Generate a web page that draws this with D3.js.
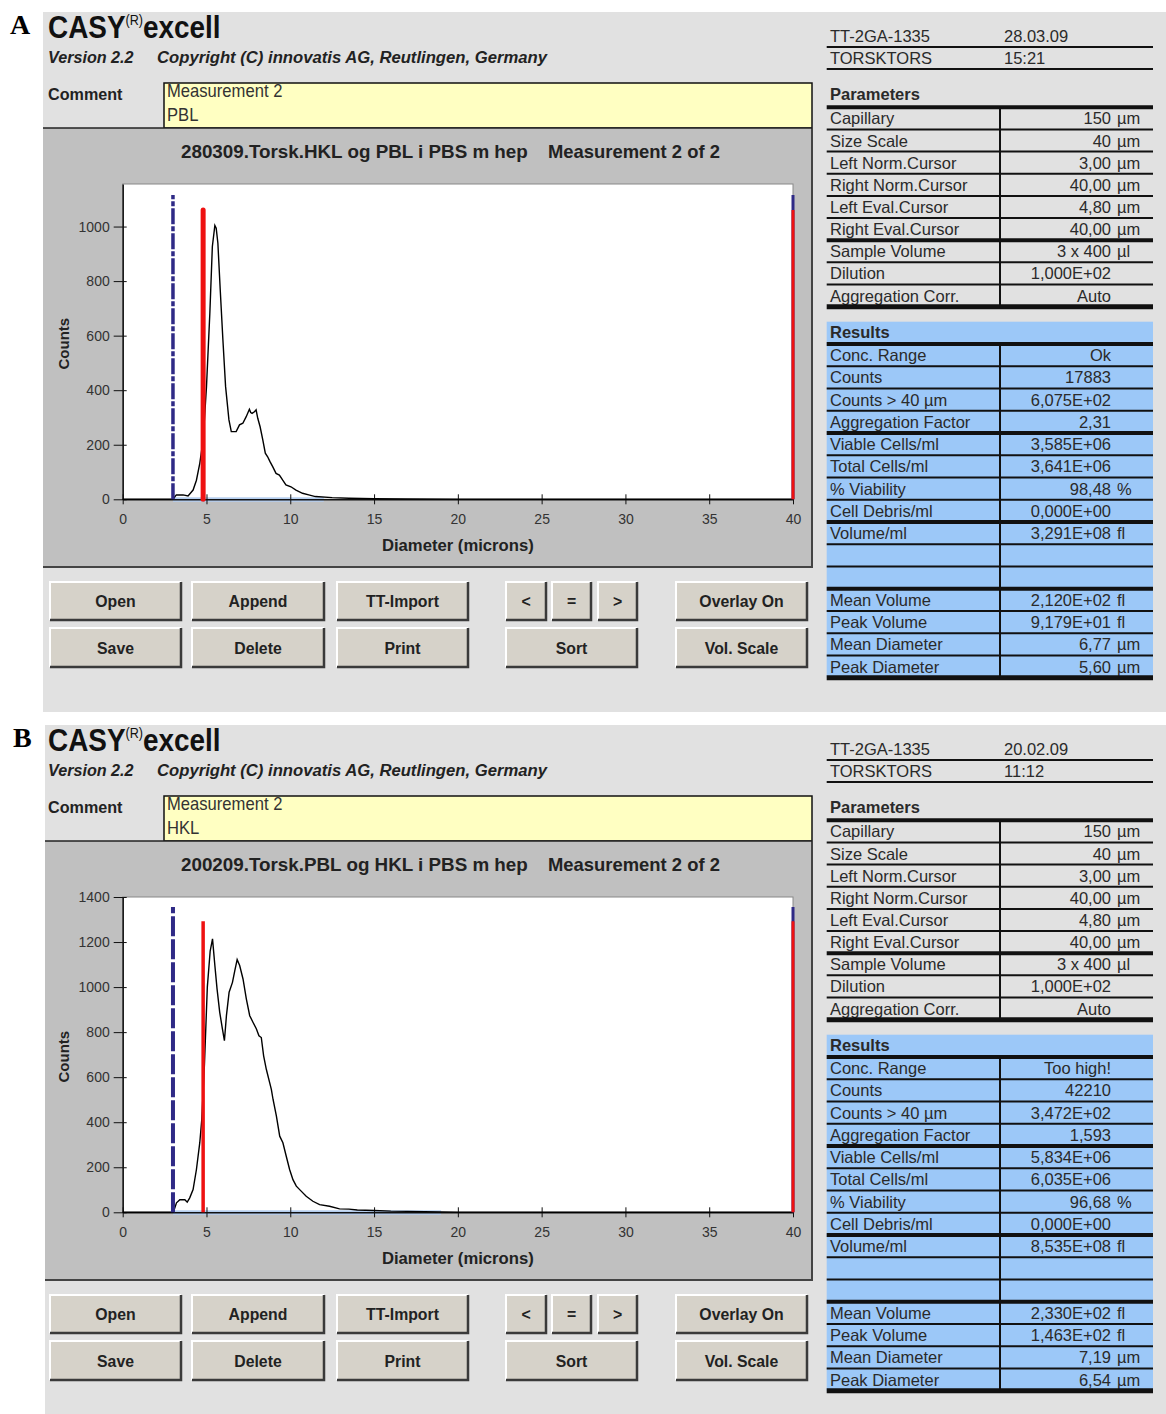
<!DOCTYPE html>
<html>
<head>
<meta charset="utf-8">
<script src="https://cdn.jsdelivr.net/npm/d3@7"></script>
<style>
  body { margin: 0; background: #fff; }
  svg { display: block; }
</style>
</head>
<body>
<script>
// ---- data ----
const X_TICKS = [0, 5, 10, 15, 20, 25, 30, 35, 40];
const Y_TICKS_A = [0, 200, 400, 600, 800, 1000];
const Y_TICKS_B = [0, 200, 400, 600, 800, 1000, 1200, 1400];

const diamA = [0, 3.0, 3.2, 3.6, 3.9, 4.2, 4.4, 4.6, 4.8, 5.0, 5.2, 5.35, 5.5, 5.58, 5.68, 5.82, 5.98, 6.14, 6.34, 6.48,
  6.77, 6.97, 7.17, 7.37, 7.56, 7.64, 7.72, 7.86, 7.96, 8.06, 8.2, 8.36, 8.51, 8.65, 8.79, 8.95, 9.15, 9.35, 9.54, 9.74,
  10.04, 10.34, 10.73, 11.1, 11.5, 12.5, 13.5, 15, 17, 20, 25, 40];
const countsA = [0, 0, 16, 16, 12, 34, 70, 132, 218, 413, 682, 927, 1004, 994, 939, 768, 584, 413, 291, 248,
  248, 273, 279, 303, 330, 318, 315, 321, 328, 297, 266, 218, 169, 156, 138, 120, 95, 89, 71, 53,
  46, 34, 22, 16, 10, 6, 4, 2, 1, 0.5, 0, 0];

const diamB = [0, 3.02, 3.21, 3.41, 3.71, 3.85, 4.0, 4.2, 4.4, 4.6, 4.72, 4.88, 5.05, 5.22, 5.36, 5.5, 5.63, 5.79, 5.95, 6.07,
  6.19, 6.35, 6.55, 6.69, 6.83, 6.98, 7.18, 7.38, 7.58, 7.78, 7.98, 8.13, 8.27, 8.41, 8.57, 8.77, 8.87, 8.97, 9.17, 9.37,
  9.56, 9.76, 9.96, 10.16, 10.36, 10.65, 10.95, 11.35, 11.75, 12.34, 12.94, 13.5, 14, 15, 16, 17, 18, 19, 20, 25, 40];
const countsB = [0, 0, 42, 56, 56, 45, 64, 101, 190, 309, 413, 660, 1000, 1160, 1214, 1096, 992, 888, 814, 762,
  873, 977, 1021, 1073, 1122, 1096, 1036, 947, 873, 843, 814, 784, 776, 695, 635, 576, 546, 502, 428, 338,
  309, 249, 190, 145, 116, 94, 71, 49, 34, 27, 15, 14, 10, 8, 5, 4, 3, 2, 1, 0.5, 0];

// cursor positions (microns) and drawn heights (counts)
const cursorsA = { normL: 3.0, normR: 40, evalL: 4.8, evalR: 40, normH: 1116, evalH: 1061, yMax: 1156 };
const cursorsB = { normL: 3.0, normR: 40, evalL: 4.8, evalR: 40, normH: 1356, evalH: 1292, yMax: 1400 };
const bandA = [3, 12];
const bandB = [3, 19];

const headerA = [["TT-2GA-1335", "28.03.09"], ["TORSKTORS", "15:21"]];
const headerB = [["TT-2GA-1335", "20.02.09"], ["TORSKTORS", "11:12"]];
const commentA = ["Measurement 2", "PBL"];
const commentB = ["Measurement 2", "HKL"];
const titleA = "280309.Torsk.HKL og PBL i PBS m hep";
const titleB = "200209.Torsk.PBL og HKL i PBS m hep";

const paramLabels = ["Capillary", "Size Scale", "Left Norm.Cursor", "Right Norm.Cursor", "Left Eval.Cursor",
  "Right Eval.Cursor", "Sample Volume", "Dilution", "Aggregation Corr."];
const paramValues = [["150", "µm"], ["40", "µm"], ["3,00", "µm"], ["40,00", "µm"], ["4,80", "µm"],
  ["40,00", "µm"], ["3 x 400", "µl"], ["1,000E+02", ""], ["Auto", ""]];

const resultLabels = ["Conc. Range", "Counts", "Counts > 40 µm", "Aggregation Factor", "Viable Cells/ml",
  "Total Cells/ml", "% Viability", "Cell Debris/ml", "Volume/ml", "", "", "Mean Volume", "Peak Volume",
  "Mean Diameter", "Peak Diameter"];
const resultsA = [["Ok", ""], ["17883", ""], ["6,075E+02", ""], ["2,31", ""], ["3,585E+06", ""], ["3,641E+06", ""],
  ["98,48", "%"], ["0,000E+00", ""], ["3,291E+08", "fl"], ["", ""], ["", ""], ["2,120E+02", "fl"],
  ["9,179E+01", "fl"], ["6,77", "µm"], ["5,60", "µm"]];
const resultsB = [["Too high!", ""], ["42210", ""], ["3,472E+02", ""], ["1,593", ""], ["5,834E+06", ""], ["6,035E+06", ""],
  ["96,68", "%"], ["0,000E+00", ""], ["8,535E+08", "fl"], ["", ""], ["", ""], ["2,330E+02", "fl"],
  ["1,463E+02", "fl"], ["7,19", "µm"], ["6,54", "µm"]];

const buttonsRow1 = ["Open", "Append", "TT-Import", "<", "=", ">", "Overlay On"];
const buttonsRow2 = ["Save", "Delete", "Print", "Sort", "Vol. Scale"];

// ---- drawing ----
const SANS = '"Liberation Sans", Arial, sans-serif';
const BLUE_CELL = "#9cc8f8";

const svg = d3.select("body").append("svg")
  .attr("width", 1166)
  .attr("height", 1414);

svg.append("rect").attr("width", 1166).attr("height", 1414).attr("fill", "#fff");

// condensed text: Arial Narrow is not installed, so squeeze Liberation Sans
function narrow(g, xx, yy, str, size, opts = {}) {
  const s = opts.sx || 0.86;
  return g.append("text")
    .attr("transform", `translate(${xx},${yy}) scale(${s},1)`)
    .attr("text-anchor", opts.anchor || "start")
    .attr("font-family", SANS).attr("font-size", size)
    .attr("font-weight", opts.bold ? "bold" : null)
    .attr("font-style", opts.italic ? "italic" : null)
    .attr("fill", opts.fill || "#222")
    .text(str);
}

function drawPanel(p) {
  const g = svg.append("g").attr("transform", `translate(0,${p.dy})`);

  g.append("rect").attr("x", p.grayX).attr("y", 12).attr("width", 1166 - p.grayX).attr("height", 700).attr("fill", "#e1e1e1");

  g.append("text").attr("x", p.letterX).attr("y", 34)
    .attr("font-family", '"Liberation Serif", "Times New Roman", serif')
    .attr("font-weight", "bold").attr("font-size", 28).attr("fill", "#000")
    .text(p.letter);

  // program header
  const t = g.append("text").attr("transform", "translate(48,38) scale(0.9,1)")
    .attr("font-family", SANS).attr("font-size", 31).attr("font-weight", "bold").attr("fill", "#111");
  t.append("tspan").text("CASY");
  t.append("tspan").attr("font-size", 14).attr("font-weight", "normal").attr("dy", -13).text("(R)");
  t.append("tspan").attr("dy", 13).text("excell");

  narrow(g, 48, 63, "Version 2.2", 17, { bold: true, italic: true, sx: 0.95 });
  narrow(g, 157, 63, "Copyright (C) innovatis AG, Reutlingen, Germany", 17, { bold: true, italic: true, sx: 0.98 });
  narrow(g, 48, 100, "Comment", 17, { bold: true, sx: 0.95 });

  // comment box
  g.append("rect").attr("x", 164).attr("y", 83).attr("width", 648).attr("height", 45)
    .attr("fill", "#ffffc2").attr("stroke", "#111").attr("stroke-width", 1.5);
  p.comment.forEach((c, i) => narrow(g, 167, 97 + i * 24, c, 17.5, { fill: "#333", sx: 0.95 }));

  // chart frame
  g.append("rect").attr("x", p.grayX).attr("y", 128).attr("width", 812 - p.grayX).attr("height", 439).attr("fill", "#c0c0c0");
  g.append("path").attr("d", `M812,128V567H${p.grayX}`).attr("fill", "none").attr("stroke", "#444").attr("stroke-width", 2);
  g.append("line").attr("x1", p.grayX).attr("x2", 812).attr("y1", 128).attr("y2", 128).attr("stroke", "#222").attr("stroke-width", 1.5);

  narrow(g, 181, 158, p.title, 19, { bold: true, sx: 0.99 });
  narrow(g, 548, 158, "Measurement 2 of 2", 19, { bold: true, sx: 0.97 });

  const x = d3.scaleLinear().domain([0, 40]).range([122.7, 793]);
  const y = d3.scaleLinear().domain([0, p.cur.yMax]).range([499.3, 184]);

  g.append("rect").attr("x", x(0)).attr("y", y(p.cur.yMax)).attr("width", x(40) - x(0)).attr("height", y(0) - y(p.cur.yMax))
    .attr("fill", "#fff").attr("stroke", "#888").attr("stroke-width", 1);

  // light blue strip under the evaluated range
  g.append("rect").attr("x", x(p.band[0])).attr("y", y(0) - 2).attr("width", x(p.band[1]) - x(p.band[0])).attr("height", 4.5)
    .attr("fill", "#b4cdee");

  const yAxis = g.append("g").attr("transform", `translate(${x(0)},0)`)
    .call(d3.axisLeft(y).tickValues(p.yTicks).tickFormat(d3.format("d")).tickSize(9).tickPadding(4).tickSizeOuter(0));
  yAxis.selectAll(".tick line").attr("x1", 4).attr("stroke", "#111");
  yAxis.select(".domain").attr("stroke", "#111").attr("stroke-width", 1.5);
  yAxis.selectAll(".tick text").attr("font-family", SANS).attr("font-size", 14).attr("fill", "#333");

  const xAxis = g.append("g").attr("transform", `translate(0,${y(0)})`)
    .call(d3.axisBottom(x).tickValues(X_TICKS).tickSize(5).tickPadding(10).tickSizeOuter(0));
  xAxis.selectAll(".tick line").attr("y1", -5).attr("stroke", "#111");
  xAxis.select(".domain").attr("stroke", "#111").attr("stroke-width", 1.5);
  xAxis.selectAll(".tick text").attr("font-family", SANS).attr("font-size", 14).attr("fill", "#333");

  g.append("text").attr("transform", `translate(69,${(y(0) + y(p.cur.yMax)) / 2 + 2}) rotate(-90)`)
    .attr("text-anchor", "middle").attr("font-family", SANS).attr("font-size", 15).attr("font-weight", "bold").attr("fill", "#222")
    .text("Counts");
  narrow(g, (x(0) + x(40)) / 2, 551, "Diameter (microns)", 17, { bold: true, anchor: "middle", sx: 0.98 });

  // distribution curve
  const pts = p.diam.map((d, i) => [d, p.counts[i]]);
  g.append("path").datum(pts)
    .attr("d", d3.line().x(d => x(d[0])).y(d => y(d[1])))
    .attr("fill", "none").attr("stroke", "#000").attr("stroke-width", 1.4);

  // cursors: normalisation (blue, dashed) and evaluation (red)
  const cursorLine = (pos, h, color, w, dash, cap) => g.append("line")
    .attr("x1", x(pos)).attr("x2", x(pos)).attr("y1", y(0)).attr("y2", y(h))
    .attr("stroke", color).attr("stroke-width", w).attr("stroke-dasharray", dash)
    .attr("stroke-linecap", cap || "butt");
  cursorLine(p.cur.normL, p.cur.normH, "#2f2a86", p.blueW, p.dash);
  cursorLine(p.cur.normR, p.cur.normH, "#2f2a86", 3, null);
  cursorLine(p.cur.evalL, p.cur.evalH, "#ee1111", p.redW, null, p.redCap);
  cursorLine(p.cur.evalR, p.cur.evalH, "#ee1111", 3, null);

  // buttons
  const b1x = [[50, 181], [192, 324], [337, 468], [506, 546], [552, 591], [598, 637], [676, 807]];
  const b2x = [[50, 181], [192, 324], [337, 468], [506, 637], [676, 807]];
  const drawButtons = (labels, xs, y0, y1) => {
    labels.forEach((lab, i) => {
      const [a, b] = xs[i];
      g.append("rect").attr("x", a).attr("y", y0).attr("width", b - a).attr("height", y1 - y0).attr("fill", "#d6d2c9");
      g.append("path").attr("d", `M${a},${y1}V${y0}H${b}`).attr("fill", "none").attr("stroke", "#fff").attr("stroke-width", 2);
      g.append("path").attr("d", `M${a},${y1}H${b}V${y0}`).attr("fill", "none").attr("stroke", "#3a3a3a").attr("stroke-width", 2.5);
      narrow(g, (a + b) / 2, (y0 + y1) / 2 + 6, lab, 17, { bold: true, anchor: "middle", sx: 0.93 });
    });
  };
  drawButtons(buttonsRow1, b1x, 582, 620);
  drawButtons(buttonsRow2, b2x, 628, 667);

  // right-hand table
  const L = 826.7, R = 1153, MID = 1000;
  const cell = (xx, yc, str, anchor, bold) => g.append("text").attr("x", xx).attr("y", yc + 6)
    .attr("text-anchor", anchor).attr("font-family", SANS).attr("font-size", 16.5)
    .attr("font-weight", bold ? "bold" : null).attr("fill", "#2a2a2a").text(str);
  const rowText = (yc, label, val, bold) => {
    cell(830, yc, label, "start", bold);
    if (val) {
      cell(1111, yc, val[0], "end");
      if (val[1]) cell(1117, yc, val[1], "start");
    }
  };
  const hline = (yy, w) => g.append("line").attr("x1", L).attr("x2", R).attr("y1", yy).attr("y2", yy)
    .attr("stroke", "#111").attr("stroke-width", w);

  p.header.forEach((r, i) => {
    const yc = 36 + i * 22;
    cell(830, yc, r[0], "start");
    cell(1004, yc, r[1], "start");
  });
  hline(47, 2);
  hline(69, 2);

  rowText(94, "Parameters", null, true);
  const pTop = 107.3, rh = 22.15;
  paramLabels.forEach((lab, i) => rowText(pTop + (i + 0.5) * rh, lab, paramValues[i], false));
  d3.range(10).forEach(k => {
    const thick = [0, 6].includes(k) ? 4 : (k === 9 ? 5 : 2);
    hline(pTop + k * rh, thick);
  });
  g.append("line").attr("x1", MID).attr("x2", MID).attr("y1", pTop).attr("y2", pTop + 9 * rh)
    .attr("stroke", "#111").attr("stroke-width", 2);

  const rTop = 344, rrh = 22.25;
  g.append("rect").attr("x", L).attr("y", 321.7).attr("width", R - L).attr("height", rTop + 15 * rrh - 321.7).attr("fill", BLUE_CELL);
  rowText(332, "Results", null, true);
  resultLabels.forEach((lab, i) => rowText(rTop + (i + 0.5) * rrh, lab, p.results[i], false));
  d3.range(16).forEach(k => {
    const thick = [0, 4, 8, 11].includes(k) ? 4 : (k === 15 ? 5 : 2);
    hline(rTop + k * rrh, thick);
  });
  g.append("line").attr("x1", MID).attr("x2", MID).attr("y1", rTop).attr("y2", rTop + 15 * rrh)
    .attr("stroke", "#111").attr("stroke-width", 2);
}

drawPanel({
  dy: 0, grayX: 43, letter: "A", letterX: 10, comment: commentA, title: titleA, header: headerA, results: resultsA,
  diam: diamA, counts: countsA, cur: cursorsA, band: bandA, yTicks: Y_TICKS_A,
  blueW: 3.5, redW: 5, redCap: "round", dash: "16,2,5,2"
});
drawPanel({
  dy: 713, grayX: 45, letter: "B", letterX: 13, comment: commentB, title: titleB, header: headerB, results: resultsB,
  diam: diamB, counts: countsB, cur: cursorsB, band: bandB, yTicks: Y_TICKS_B,
  blueW: 4, redW: 3.5, redCap: "butt", dash: "20,3"
});
</script>
</body>
</html>
